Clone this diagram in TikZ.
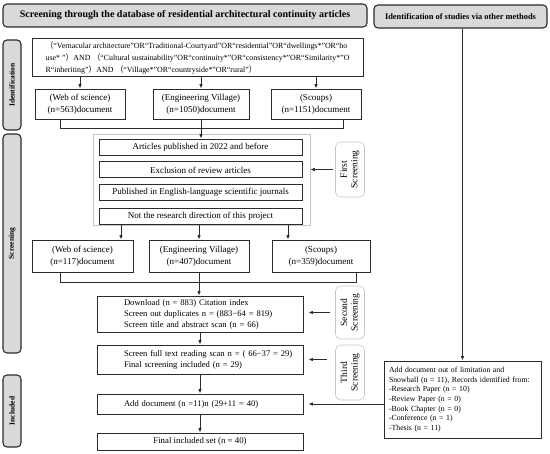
\documentclass[tikz,border=0pt]{standalone}
\usepackage{fontspec}
\setmainfont{Liberation Serif}
\newfontfamily\cjk{Noto Sans CJK SC}
\usepackage{xcolor}
\usepackage{tikz}
\usetikzlibrary{arrows.meta, positioning}
\definecolor{hdrfill}{HTML}{D9D9D9}
\definecolor{edge}{HTML}{2B2B2B}
\definecolor{faint}{HTML}{C6C6C6}
\newcommand{\lpar}{{\cjk （}}
\newcommand{\rpar}{{\cjk ）}}

\begin{document}
\begin{tikzpicture}[x=1pt, y=-1pt,
  box/.style={draw=edge, line width=0.9pt, align=center, inner sep=3pt, font=\fontsize{9}{12}\selectfont},
  flt/.style={box, minimum width=203pt, minimum height=16pt, font=\fontsize{9}{10}\selectfont},
  lbox/.style={box, text width=200pt, align=left, font=\fontsize{8.6}{11}\selectfont, execute at begin node={\leftskip=24pt}},
  hdr/.style={draw=edge, fill=hdrfill, line width=1.1pt, rounded corners=4pt, minimum height=23pt, font=\bfseries\fontsize{10}{11}\selectfont},
  side/.style={hdr, rotate=90, minimum height=18pt, font=\bfseries\fontsize{7.5}{8}\selectfont},
  scr/.style={draw=faint, line width=0.6pt, rounded corners=5pt, rotate=90, minimum height=29pt, align=center, font=\fontsize{9.5}{10.5}\selectfont},
  arr/.style={draw=edge, line width=0.9pt, -{Latex[length=4.5pt,width=3.6pt]}},
  brk/.style={draw=edge, line width=0.9pt}
]
\useasboundingbox (0,0) rectangle (550,454);

\node[hdr, minimum width=364pt] (hl) at (185,15.5) {Screening through the database of residential architectural continuity articles};
\node[hdr, minimum width=173pt, font=\bfseries\fontsize{8.4}{9}\selectfont] (hr) at (460.5,16.5) {Identification of studies via other methods};

\node[side, minimum width=90pt] (sid) at (12,85) {Identification};
\node[side, minimum width=219pt] (sscr) at (12,243.5) {Screening};
\node[side, minimum width=72pt] (sinc) at (12,411) {Included};

\node[box, align=left, minimum width=331pt, minimum height=37pt, font=\fontsize{7.9}{12}\selectfont] (q) at (197.5,57.5) {\lpar“Vernacular architecture”OR“Traditional-Courtyard”OR“residential”OR“dwellings*”OR“ho\\use* ”\rpar AND \lpar“Cultural sustainability”OR“continuity*”OR“consistency*”OR“Similarity*”O\\R“inheriting”\rpar AND \lpar“Village*”OR“countryside*”OR“rural”\rpar};

\node[box, minimum width=90pt, minimum height=30pt] (w1) at (80,104) {(Web of science)\\(n=563)document};
\node[box, minimum width=96pt, minimum height=30pt] (e1) at (201,104) {(Engineering Village)\\(n=1050)document};
\node[box, minimum width=90pt, minimum height=30pt] (s1) at (316,104) {(Scoups)\\(n=1151)document};

\node[draw=faint, line width=0.6pt, minimum width=217pt, minimum height=91pt] (pan) at (201.5,179.5) {};
\node[flt] (f1) at (200.5,147) {Articles published in 2022 and before};
\node[flt, below=6pt of f1] (f2) {Exclusion of review articles};
\node[flt, below=6pt of f2] (f3) {Published in English-language scientific journals};
\node[flt, below=6.5pt of f3] (f4) {Not the research direction of this project};
\node[scr, minimum width=55pt] (sc1) at (350,169.5) {First\\Screening};

\node[box, minimum width=101pt, minimum height=32pt] (w2) at (82.5,256) {(Web of science)\\(n=117)document};
\node[box, minimum width=100pt, minimum height=32pt] (e2) at (199,256) {(Engineering Village)\\(n=407)document};
\node[box, minimum width=98pt, minimum height=32pt] (s2) at (321,256) {(Scoups)\\(n=359)document};

\node[lbox, minimum height=36pt] (dl) at (200,314) {Download (n = 883) Citation index\\Screen out duplicates n = (883−64 = 819)\\Screen title and abstract scan (n = 66)};
\node[scr, minimum width=53pt] (sc2) at (350,312.5) {Second\\Screening};
\node[lbox, minimum height=29pt] (ft) at (200,359.5) {Screen full text reading scan n = ( 66−37 = 29)\\Final screening included (n = 29)};
\node[scr, minimum width=55pt] (sc3) at (350,372.5) {Third\\Screening};
\node[lbox, minimum height=20pt] (ad) at (200,404) {Add document (n =11)n (29+11 = 40)};
\node[box, minimum width=206pt, minimum height=17pt, font=\fontsize{8.8}{10}\selectfont] (fin) at (200,441.5) {Final included set (n = 40)};

\node[box, text width=147pt, align=left, inner xsep=5pt, minimum height=77pt, font=\fontsize{7.8}{9.6}\selectfont] (sn) at (462.5,399.5) {Add document out of limitation and\\Snowball (n = 11), Records identified from:\\-Research Paper (n = 10)\\-Review Paper (n = 0)\\-Book Chapter (n = 0)\\-Conference (n = 1)\\-Thesis (n = 11)};

\draw[arr] (q.south -| w1) -- (w1);
\draw[arr] (q.south -| e1) -- (e1);
\draw[arr] (q.south -| s1) -- (s1);
\draw[brk] ([xshift=-20pt]w1.south) -- ++(0,9) -| ([xshift=27pt]s1.south);
\draw[arr] (e1.south) -- (e1.south |- f1.north);
\draw[arr, shorten <=2pt] (sc1.north) -- (sc1.north -| pan.east);

\draw[arr] ([xshift=38.5pt]w2.north |- pan.south) -- ([xshift=38.5pt]w2.north);
\draw[arr] (pan.south -| e2) -- (e2);
\draw[arr] ([xshift=-33pt]s2.north |- pan.south) -- ([xshift=-33pt]s2.north);
\draw[brk] ([xshift=-22.5pt]w2.south) -- ++(0,10) -| ([xshift=35pt]s2.south);
\draw[arr] (e2.south) -- (e2.south |- dl.north);

\draw[arr, shorten <=5pt, shorten >=5pt] (sc2.north) -- (sc2.north -| dl.east);
\draw[arr] (dl) -- (ft);
\draw[arr, shorten <=8pt, shorten >=5pt] (sc3.north |- ft) -- (ft.east);
\draw[arr] (ft) -- (ad);
\draw[arr] (ad) -- (fin);

\draw[arr] (hr.south -| sn) -- (sn);
\draw[arr, shorten >=5pt] (sn.west |- ad) -- (ad.east);
\end{tikzpicture}
\end{document}
